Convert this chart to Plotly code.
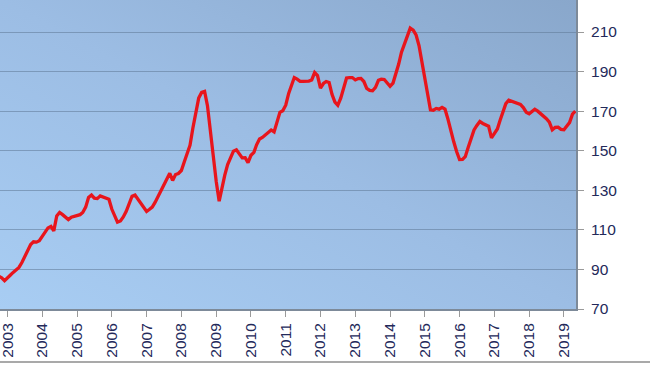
import base64
import plotly.graph_objects as go

# Monthly index values, Oct 2002 .. May 2019
start_year = 2002
start_month = 10
values = [
    86.5, 85.8, 84.3, 85.5, 87.2, 88.5, 89.8, 91.0, 93.5, 96.4, 99.8, 102.6,
    104.0, 103.8, 104.5, 106.8, 108.8, 111.0, 111.8, 109.5, 117.0, 118.8, 117.7, 116.5,
    115.2, 116.4, 116.8, 117.0, 117.7, 118.8, 121.5, 126.4, 127.6, 126.0, 125.8, 127.2,
    126.7, 126.2, 125.5, 120.4, 116.8, 113.9, 114.5, 116.5, 119.4, 123.1, 127.0, 127.6,
    125.6, 124.0, 121.5, 119.3, 120.4, 121.5, 124.0, 126.9, 130.3, 133.5, 136.3, 138.6,
    135.0, 138.0, 138.5, 140.0, 144.4, 148.5, 152.8, 161.5, 169.8, 176.6, 179.5, 180.0,
    172.8, 159.6, 145.0, 134.5, 124.5, 131.0, 137.7, 143.0, 146.8, 149.8, 150.5, 148.2,
    146.4, 146.5, 144.0, 147.7, 149.2, 153.0, 155.9, 156.7, 158.0, 159.4, 160.5, 159.5,
    164.0, 169.4, 170.2, 173.0, 179.0, 183.0, 187.0, 186.2, 185.1, 185.1, 185.1, 185.2,
    185.8, 189.5, 188.0, 181.7, 184.0, 185.0, 184.5, 178.5, 174.6, 173.0, 176.6, 181.5,
    186.8, 187.0, 187.0, 185.8, 186.5, 186.6, 185.0, 181.5, 180.5, 180.3, 182.0, 185.6,
    186.2, 186.0, 184.2, 182.6, 184.2, 188.5, 193.7, 199.8, 203.8, 208.0, 212.0, 211.0,
    208.6, 203.2, 194.3, 185.5, 178.3, 170.7, 170.5, 171.4, 171.0, 171.9, 171.0, 166.0,
    160.0, 154.5, 149.6, 145.5, 145.6, 147.0, 151.8, 156.8, 160.5, 162.8, 164.8, 163.8,
    163.3, 162.4, 156.5, 158.8, 161.0, 165.3, 170.0, 173.8, 175.6, 175.0, 174.4, 173.9,
    173.4, 171.8, 169.5, 168.7, 170.2, 171.0, 170.0, 168.8, 167.2, 166.2, 164.5, 160.6,
    161.8, 161.9, 160.8, 160.6, 162.5, 164.2, 168.5, 170.0,
]

dates = []
y, m = start_year, start_month
for _ in values:
    dates.append(f"{y:04d}-{m:02d}-01")
    m += 1
    if m > 12:
        m = 1
        y += 1

year_ticks = [f"{yr}-01-01" for yr in range(2003, 2020)]
year_labels = [str(yr) for yr in range(2003, 2020)]
y_ticks = [70, 90, 110, 130, 150, 170, 190, 210, 230]

svg = """<svg xmlns='http://www.w3.org/2000/svg' width='600' height='320' preserveAspectRatio='none'>
<defs><linearGradient id='g' x1='0' y1='1' x2='1' y2='0'>
<stop offset='0' stop-color='#a8cdf3'/>
<stop offset='0.5' stop-color='#9cbde4'/>
<stop offset='1' stop-color='#89a7cb'/>
</linearGradient></defs>
<rect x='0' y='0' width='600' height='320' fill='url(#g)'/>
</svg>"""
bg_uri = "data:image/svg+xml;base64," + base64.b64encode(svg.encode()).decode()

fig = go.Figure()
fig.add_trace(go.Scatter(
    x=dates, y=values, mode="lines",
    line=dict(color="#e8151c", width=3.3),
    hoverinfo="x+y", showlegend=False,
))

fig.add_layout_image(dict(
    source=bg_uri, xref="x domain", yref="y domain",
    x=0, y=1, sizex=1, sizey=1, sizing="stretch",
    xanchor="left", yanchor="top", layer="below",
))

fig.add_shape(type="line", xref="paper", yref="paper",
              x0=-0.01, x1=1.2, y0=-0.1715, y1=-0.1715,
              line=dict(color="#a9a9a9", width=2))

fig.update_layout(
    width=650, height=366,
    margin=dict(l=0, r=74, t=0, b=57),
    paper_bgcolor="white",
    plot_bgcolor="rgba(0,0,0,0)",
    font=dict(family="Liberation Sans, Arial, sans-serif", color="#23295a"),
    xaxis=dict(
        range=["2002-10-14", "2019-05-08"],
        tickvals=year_ticks, ticktext=year_labels,
        tickangle=-90, tickfont=dict(size=15.5, color="#23295a"),
        ticks="outside", ticklen=6, tickcolor="#9a9a9a",
        ticklabeloverflow="allow",
        showgrid=False, showline=True, linecolor="#7d8a99", linewidth=2,
        zeroline=False, fixedrange=True,
    ),
    yaxis=dict(
        range=[70, 226.2], side="right",
        tickvals=y_ticks, tickfont=dict(size=15.5, color="#23295a"),
        ticks="outside", ticklen=6, tickcolor="#9a9a9a",
        showgrid=True, gridcolor="rgba(95,120,150,0.55)", gridwidth=1,
        showline=True, linecolor="#7d8a99", linewidth=2,
        zeroline=False, fixedrange=True, ticklabelstandoff=4,
    ),
)

fig.write_html(
    "out.html",
    config={"displayModeBar": False},
    post_script="document.body.style.margin='0';document.body.style.overflow='hidden';",
)
